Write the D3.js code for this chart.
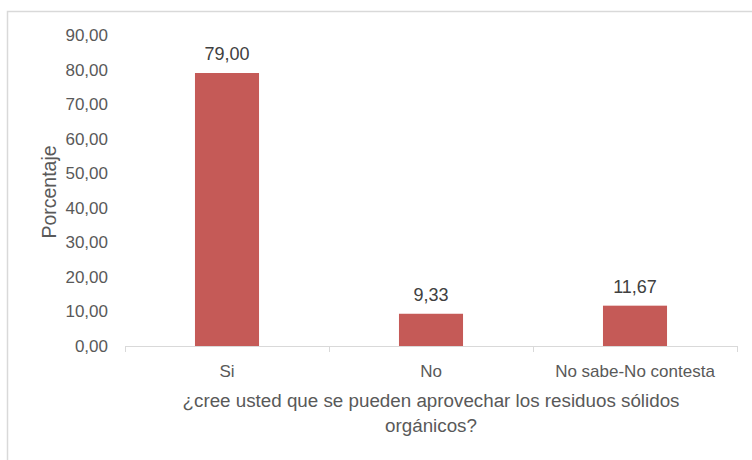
<!DOCTYPE html>
<html><head><meta charset="utf-8">
<script src="https://cdn.jsdelivr.net/npm/d3@7"></script>
<style>body{margin:0;background:#fff;}svg{display:block;font-family:"Liberation Sans","Noto Sans",sans-serif;}</style>
</head><body>
<script>
const categories = ["Si", "No", "No sabe-No contesta"];
const values = [79.00, 9.33, 11.67];
const yTicks = [0, 10, 20, 30, 40, 50, 60, 70, 80, 90];
const yTitle = "Porcentaje";
const xTitleLines = ["¿cree usted que se pueden aprovechar los residuos sólidos", "orgánicos?"];

const W = 752, H = 460;
const svg = d3.select("body").append("svg").attr("width", W).attr("height", H);
// chart frame
svg.append("rect").attr("x", 7.5).attr("y", 11.5).attr("width", 800).attr("height", 500)
  .attr("fill", "none").attr("stroke", "#D9D9D9").attr("stroke-width", 1.5);

const m = {left: 125, right: 737, top: 35, bottom: 346};
const fmt = v => d3.format(".2f")(v).replace(".", ",");
const x = d3.scaleBand().domain(categories).range([m.left, m.right]).paddingInner(0.686).paddingOuter(0.343);
const y = d3.scaleLinear().domain([0, 90]).range([m.bottom, m.top]);
const textColor = "#595959";

// y axis labels
const ya = svg.append("g").attr("transform", `translate(${m.left},0)`).call(d3.axisLeft(y).tickValues(yTicks).tickFormat(fmt).tickSize(0).tickPadding(17));
ya.select(".domain").remove();
ya.selectAll("text").attr("fill", textColor).style("font-size", "17px").style("font-family", "Liberation Sans, sans-serif");

// bars
svg.selectAll("rect.bar").data(values).join("rect").attr("class", "bar")
  .attr("x", (d, i) => x(categories[i])).attr("width", x.bandwidth())
  .attr("y", d => y(d)).attr("height", d => y(0) - y(d)).attr("fill", "#C55A57");

// data labels
svg.selectAll("text.lbl").data(values).join("text").attr("class", "lbl")
  .attr("x", (d, i) => x(categories[i]) + x.bandwidth() / 2).attr("y", d => y(d) - 13)
  .attr("text-anchor", "middle").attr("fill", "#404040").style("font-size", "18px").text(fmt);

// x axis
const step = x.step();
const xa = svg.append("g").attr("transform", `translate(0,${m.bottom})`);
xa.append("line").attr("x1", m.left).attr("x2", m.right).attr("y1", 0.5).attr("y2", 0.5).attr("stroke", "#D9D9D9");
const bounds = [m.left].concat(categories.map(c => x(c) - x.paddingInner() * step / 2 + step));
xa.selectAll("line.tk").data(bounds).join("line").attr("class", "tk")
  .attr("x1", d => Math.round(d) + 0.5).attr("x2", d => Math.round(d) + 0.5).attr("y1", 0).attr("y2", 6).attr("stroke", "#D9D9D9");
xa.selectAll("text").data(categories).join("text")
  .attr("x", c => x(c) + x.bandwidth() / 2).attr("y", 31).attr("text-anchor", "middle")
  .attr("fill", textColor).style("font-size", "17px").text(c => c);

// x title
svg.selectAll("text.xt").data(xTitleLines).join("text").attr("class", "xt")
  .attr("x", (m.left + m.right) / 2).attr("y", (d, i) => 407 + i * 25).attr("text-anchor", "middle")
  .attr("fill", textColor).style("font-size", "18.8px").text(d => d);

// y title
svg.append("text").attr("transform", `translate(56,192) rotate(-90)`)
  .attr("text-anchor", "middle").attr("fill", textColor).style("font-size", "19.5px").text(yTitle);
</script>
</body></html>
